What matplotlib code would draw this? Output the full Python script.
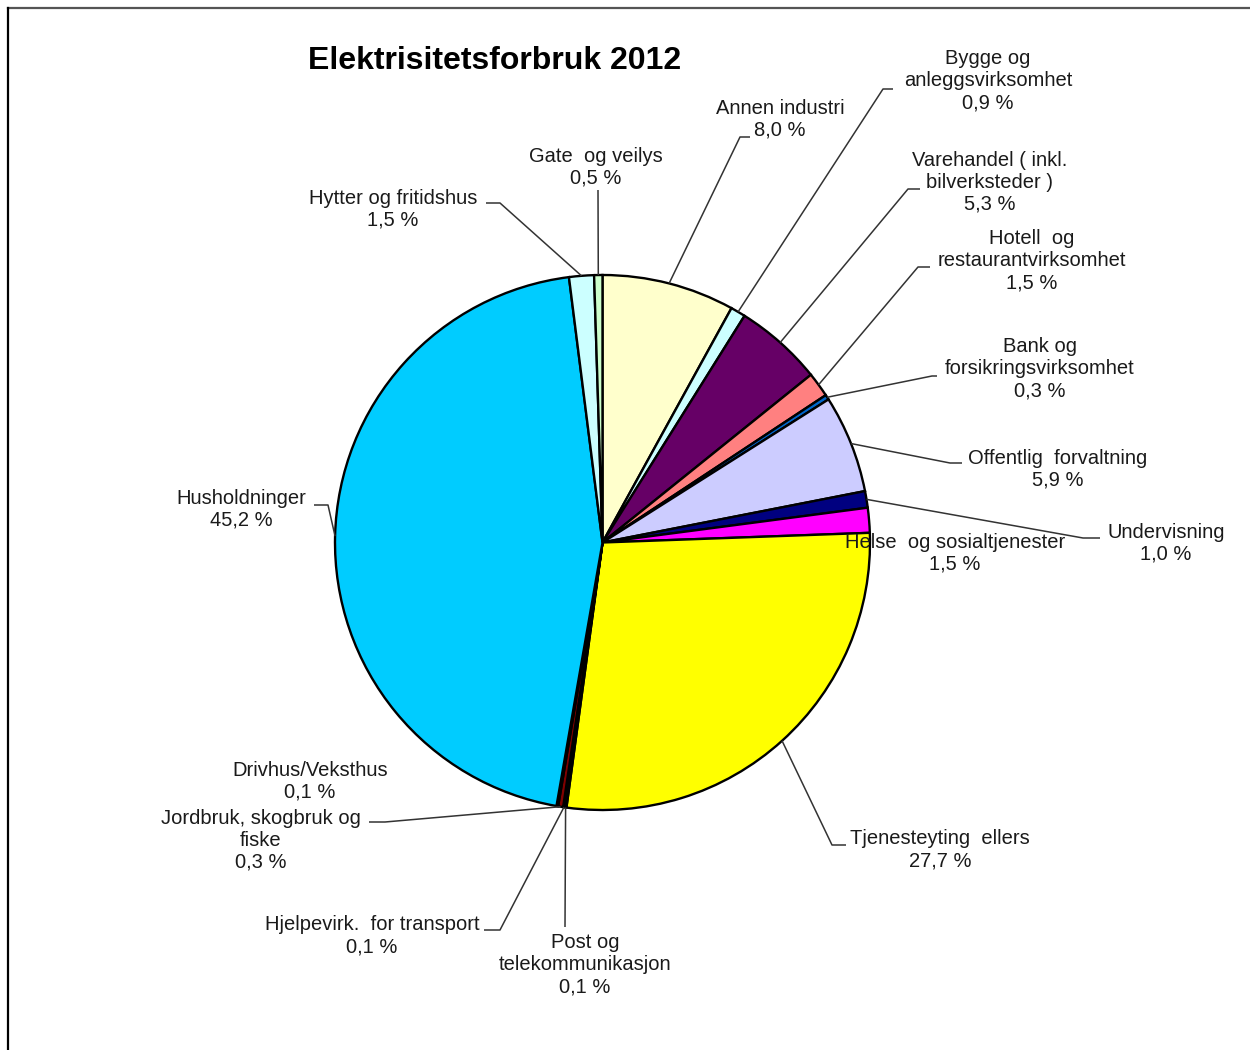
import numpy as np
import matplotlib.pyplot as plt
from matplotlib.lines import Line2D

plt.rcParams["font.family"] = ["Liberation Sans", "DejaVu Sans"]

# data (Excel order, clockwise from 12 o'clock)
categories = [
    "Annen industri",
    "Bygge og\nanleggsvirksomhet",
    "Varehandel ( inkl.\nbilverksteder )",
    "Hotell  og\nrestaurantvirksomhet",
    "Bank og\nforsikringsvirksomhet",
    "Offentlig  forvaltning",
    "Undervisning",
    "Helse  og sosialtjenester",
    "Tjenesteyting  ellers",
    "Post og\ntelekommunikasjon",
    "Hjelpevirk.  for transport",
    "Jordbruk, skogbruk og\nfiske",
    "Drivhus/Veksthus",
    "Husholdninger",
    "Hytter og fritidshus",
    "Gate  og veilys",
]
shares = [8.0, 0.9, 5.3, 1.5, 0.3, 5.9, 1.0, 1.5, 27.7, 0.1, 0.1, 0.3, 0.1, 45.2, 1.5, 0.5]
colors = ["#FFFFCC", "#CCFFFF", "#660066", "#FF8080", "#0066CC", "#CCCCFF",
          "#000080", "#FF00FF", "#FFFF00", "#00FFFF", "#800080", "#800000",
          "#008080", "#00CCFF", "#CCFFFF", "#CCFFCC"]

# layout (image pixel coords, y down)
W, H = 1250, 1050
center_img = (602.5, 542.5)
radius = 267.5
label_pos = [(780, 119), (988, 81), (990, 182), (1032, 261), (1040, 369),
             (1058, 469), (1166, 543), (955, 553), (940, 850), (585, 965),
             (372, 936), (261, 840), (310, 781), (241, 509), (393, 209), (596, 167)]
# leader: text-side point, elbow point (None = no leader)
leaders = [
    ((750, 137), (740, 137)),
    ((893, 89), (883, 89)),
    ((920, 189), (908, 189)),
    ((930, 267), (918, 267)),
    ((937, 376), (932, 376)),
    ((962, 463), (950, 463)),
    ((1100, 538), (1083, 538)),
    None,
    ((846, 845), (832, 845)),
    ((565, 927), (565, 927)),
    ((484, 930), (500, 930)),
    ((369, 822), (385, 822)),
    None,
    ((314, 505), (328, 505)),
    ((486, 203), (500, 203)),
    ((598, 190), (598, 190)),
]

fig = plt.figure(figsize=(W / 100, H / 100), dpi=100)
ax = fig.add_axes([0, 0, 1, 1])

cx, cy = center_img[0], H - center_img[1]
wedges, _ = ax.pie(shares, colors=colors, startangle=90, counterclock=False,
                   center=(cx, cy), radius=radius, frame=True,
                   wedgeprops=dict(edgecolor="black", linewidth=1.7))
ax.set_xlim(0, W)
ax.set_ylim(0, H)
ax.axis("off")

for w, name, v, pos, ld in zip(wedges, categories, shares, label_pos, leaders):
    pct = f"{v:.1f}".replace(".", ",") + " %"
    ax.text(pos[0], H - pos[1], name + "\n" + pct, ha="center", va="center",
            fontsize=14.5, color="#1a1a1a", linespacing=1.2, zorder=5)
    if ld is None:
        continue
    mid = np.deg2rad((w.theta1 + w.theta2) / 2)
    ex, ey = cx + radius * np.cos(mid), cy + radius * np.sin(mid)
    (tx, ty), (bx, by) = ld
    ax.plot([tx, bx, ex], [H - ty, H - by, ey], color="#333333", lw=1.1,
            zorder=4, solid_capstyle="butt")

ax.text(495, H - 61, "Elektrisitetsforbruk 2012", ha="center", va="center",
        fontsize=23, fontweight="bold", color="black")

# chart frame (top and left edges visible)
fig.add_artist(Line2D([8 / W, 1], [1 - 8 / H, 1 - 8 / H], color="#555555", lw=1.6))
fig.add_artist(Line2D([8 / W, 8 / W], [0, 1 - 8 / H], color="black", lw=1.6))

fig.savefig("out.png", dpi=100)
plt.close(fig)
